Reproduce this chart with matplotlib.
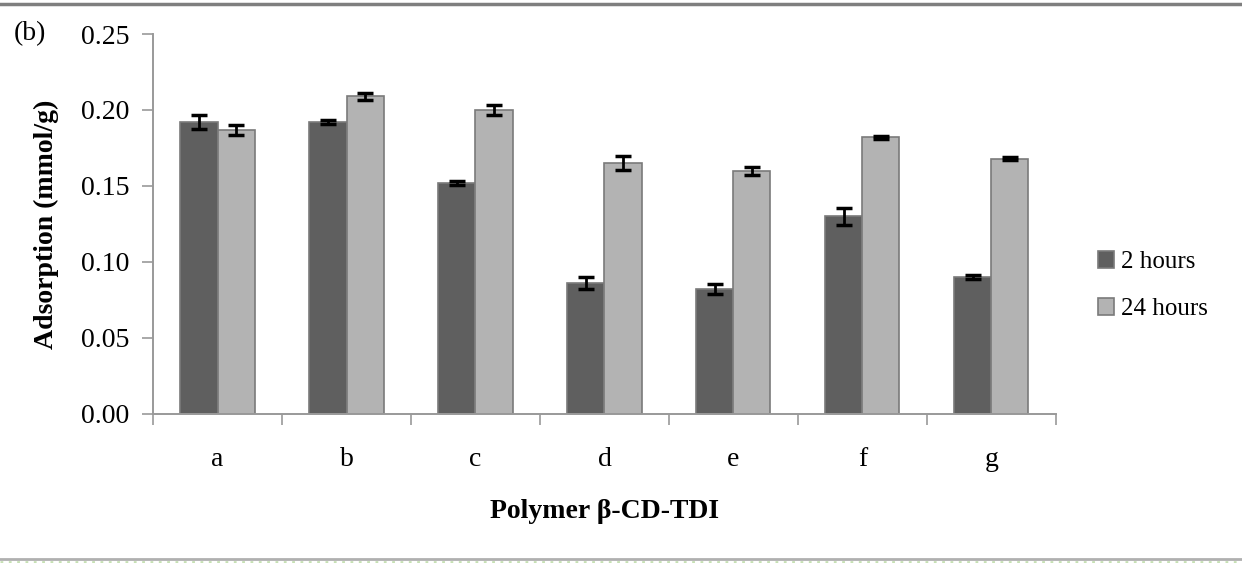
import matplotlib.pyplot as plt
import numpy as np
from matplotlib.lines import Line2D

plt.rcParams['font.family'] = ['Liberation Serif', 'DejaVu Serif']

# adsorption per polymer, mean and error
polymers = ['a', 'b', 'c', 'd', 'e', 'f', 'g']
ads_2h = [0.192, 0.192, 0.152, 0.086, 0.082, 0.130, 0.090]
err_2h = [0.0045, 0.0015, 0.0015, 0.004, 0.0033, 0.0055, 0.0015]
ads_24h = [0.187, 0.209, 0.200, 0.165, 0.160, 0.182, 0.168]
err_24h = [0.0033, 0.0023, 0.003, 0.0045, 0.0025, 0.001, 0.001]

fs = 20

fig = plt.figure(figsize=(12.42, 5.63), dpi=100)
ax = fig.add_axes([0.1232, 0.2647, 0.7270, 0.6749])

x = np.arange(len(polymers))
w = 0.287
ax.bar(x - w / 2, ads_2h, w, color='#5f5f5f', edgecolor='#7a7a7a', linewidth=1.2,
       label='2 hours', zorder=2)
ax.bar(x + w / 2, ads_24h, w, color='#b3b3b3', edgecolor='#7a7a7a', linewidth=1.2,
       label='24 hours', zorder=2)
ax.errorbar(x - w / 2, ads_2h, yerr=err_2h, fmt='none', ecolor='black',
            elinewidth=2, capsize=6, capthick=2.5, zorder=3)
ax.errorbar(x + w / 2, ads_24h, yerr=err_24h, fmt='none', ecolor='black',
            elinewidth=2, capsize=6, capthick=2.5, zorder=3)

ax.set_xlim(-0.5, len(polymers) - 0.5)
ax.set_ylim(0, 0.25)
ax.set_yticks(np.arange(0, 0.251, 0.05))
ax.set_yticklabels(['%.2f' % v for v in np.arange(0, 0.251, 0.05)])

# categories centred between boundary ticks
ax.set_xticks(np.arange(-0.5, len(polymers)), minor=False)
ax.set_xticklabels([])
ax.set_xticks(x, minor=True)
ax.set_xticklabels(polymers, minor=True)
ax.tick_params(axis='x', which='minor', length=0, pad=24, labelsize=fs)
ax.tick_params(axis='x', which='major', length=8, width=1.2, color='#999999')
ax.tick_params(axis='y', length=8, width=1.2, color='#999999', labelsize=fs, pad=9)

for s in ['top', 'right']:
    ax.spines[s].set_visible(False)
for s in ['left', 'bottom']:
    ax.spines[s].set_color('#999999')
    ax.spines[s].set_linewidth(1.4)

ax.set_xlabel('Polymer β-CD-TDI', fontsize=fs, fontweight='bold', labelpad=19)
ax.set_ylabel('Adsorption (mmol/g)', fontsize=fs, fontweight='bold', labelpad=16)

fig.text(0.011, 0.94, '(b)', fontsize=fs, va='center')

leg = fig.legend(loc='center left', bbox_to_anchor=(0.866, 0.493), frameon=False,
                 fontsize=18, handlelength=0.65, handleheight=0.65,
                 handletextpad=0.25, labelspacing=1.0)

# page rules above and below
fig.add_artist(Line2D([0, 1], [1 - 4 / 563, 1 - 4 / 563], color='#7f7f7f', lw=2.5))
fig.add_artist(Line2D([0, 1], [1 - 559 / 563, 1 - 559 / 563], color='#b0b0b0', lw=2))
fig.add_artist(Line2D([0, 1], [1 - 562 / 563, 1 - 562 / 563], color='#c6e0b4',
                      lw=2, linestyle=(0, (1, 2))))

fig.savefig('out.png', dpi=100)
